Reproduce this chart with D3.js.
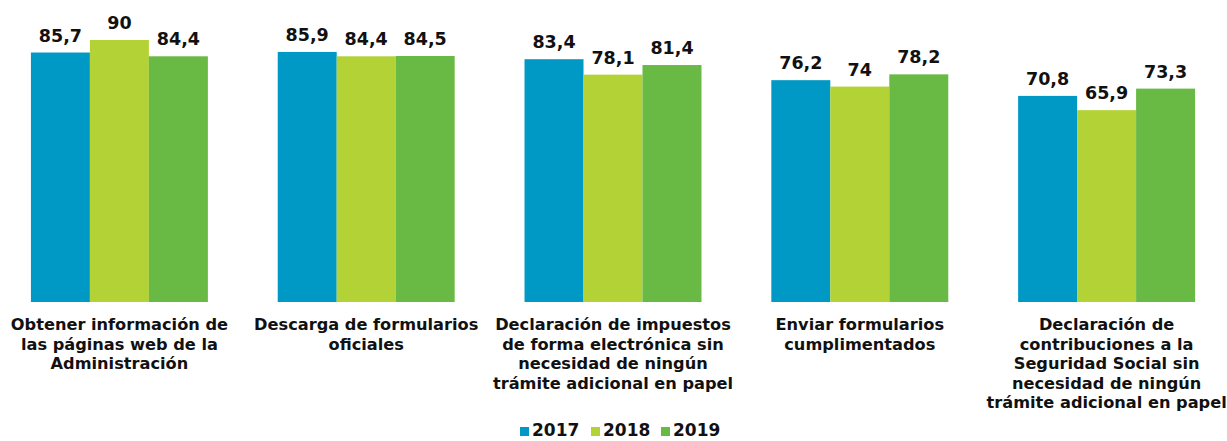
<!DOCTYPE html>
<html>
<head>
<meta charset="utf-8">
<script src="https://cdn.jsdelivr.net/npm/d3@7"></script>
<style>
  body { margin: 0; background: #fff; }
  svg { display: block; font-family: "DejaVu Sans", Verdana, sans-serif; font-weight: bold; }
</style>
</head>
<body>
<svg id="canvas" width="1227" height="441"></svg>
<script>
const categories = [
  ["Obtener información de", "las páginas web de la", "Administración"],
  ["Descarga de formularios", "oficiales"],
  ["Declaración de impuestos", "de forma electrónica sin", "necesidad de ningún", "trámite adicional en papel"],
  ["Enviar formularios", "cumplimentados"],
  ["Declaración de", "contribuciones a la", "Seguridad Social sin", "necesidad de ningún", "trámite adicional en papel"]
];
const years = ["2017", "2018", "2019"];
const v2017 = [85.7, 85.9, 83.4, 76.2, 70.8];
const v2018 = [90, 84.4, 78.1, 74, 65.9];
const v2019 = [84.4, 84.5, 81.4, 78.2, 73.3];
const colors = ["#0099c6", "#b3d236", "#69b945"];

let svg = d3.select("#canvas");
let series = [v2017, v2018, v2019];

let x0 = d3.scaleBand()
  .domain(d3.range(categories.length))
  .range([-4, 1230])
  .paddingInner(0.283)
  .paddingOuter(0.1415);

let x1 = d3.scaleBand()
  .domain(years)
  .range([0, x0.bandwidth()]);

let y = d3.scaleLinear()
  .domain([0, 90])
  .range([302, 40]);

let groups = svg.selectAll("g.grp")
  .data(categories)
  .enter()
  .append("g")
  .attr("class", "grp")
  .attr("transform", (d, i) => "translate(" + x0(i) + ",0)");

groups.selectAll("rect")
  .data((d, i) => years.map((yr, j) => ({ yr: yr, v: series[j][i], j: j })))
  .enter()
  .append("rect")
  .attr("x", d => x1(d.yr))
  .attr("y", d => y(d.v))
  .attr("width", x1.bandwidth())
  .attr("height", d => y(0) - y(d.v))
  .attr("fill", d => colors[d.j]);

groups.selectAll("text.val")
  .data((d, i) => years.map((yr, j) => ({ yr: yr, v: series[j][i] })))
  .enter()
  .append("text")
  .attr("class", "val")
  .attr("x", d => x1(d.yr) + x1.bandwidth() / 2)
  .attr("y", d => y(d.v) - 11)
  .attr("text-anchor", "middle")
  .attr("font-size", 17.5)
  .attr("fill", "#111")
  .text(d => String(d.v).replace(".", ","));

// category labels
groups.append("text")
  .attr("text-anchor", "middle")
  .attr("font-size", 16.2)
  .attr("fill", "#111")
  .selectAll("tspan")
  .data(d => d)
  .enter()
  .append("tspan")
  .attr("x", x0.bandwidth() / 2)
  .attr("y", (d, i) => 330 + i * 19.5)
  .text(d => d);

// legend
let legend = svg.append("g").attr("transform", "translate(520,0)");
let lx = [0, 71, 141];
years.forEach((yr, j) => {
  legend.append("rect")
    .attr("x", lx[j]).attr("y", 427)
    .attr("width", 9).attr("height", 9)
    .attr("fill", colors[j]);
  legend.append("text")
    .attr("x", lx[j] + 12).attr("y", 436)
    .attr("font-size", 17)
    .attr("fill", "#111")
    .text(yr);
});
</script>
</body>
</html>
